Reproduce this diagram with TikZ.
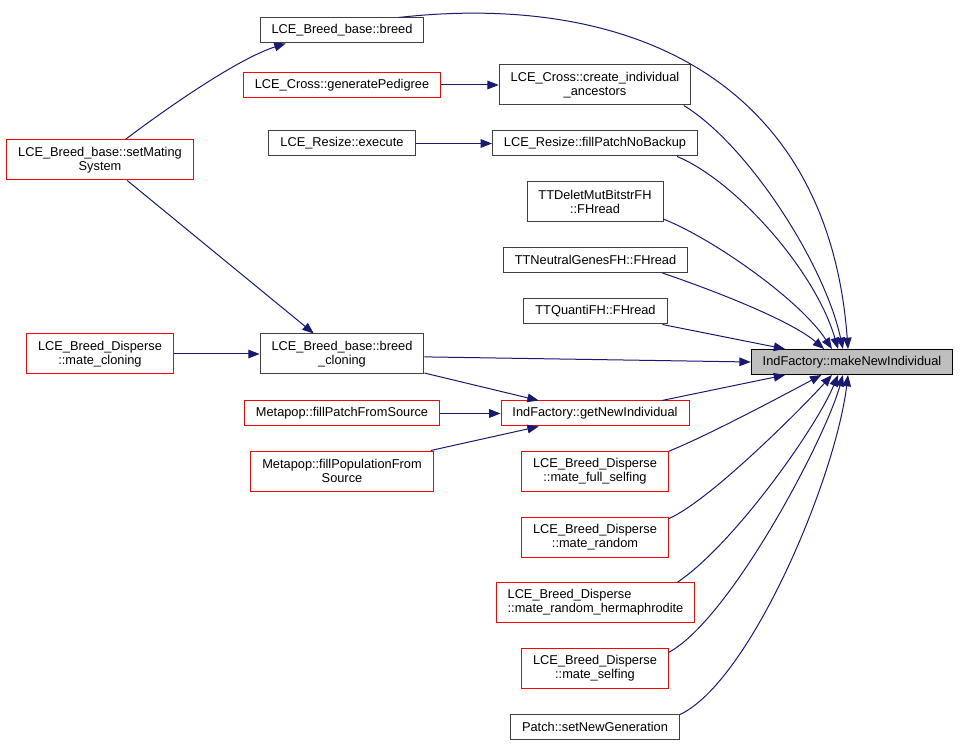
\documentclass[tikz,border=0pt]{standalone}
\usepackage{fontspec}
\setmainfont{Liberation Sans}
\usetikzlibrary{arrows.meta}
\definecolor{edgeblue}{HTML}{191970}
\definecolor{boxgray}{HTML}{404040}
\definecolor{curfill}{HTML}{BFBFBF}

\begin{document}
\begin{tikzpicture}[
			x=0.75pt, y=0.75pt,
			font=\fontsize{9.6}{10.5}\selectfont,
			fn/.style = {draw=boxgray, fill=white, line width=0.75pt, inner xsep=8.6pt, inner ysep=0pt, minimum height=18.75pt},
			fnr/.style = {fn, draw=red},
			cur/.style = {fn, draw=black, fill=curfill},
			two/.style = {minimum height=30pt, align=center},
			call/.style = {draw=edgeblue, line width=0.75pt, -{Triangle[length=8.5pt, width=6.5pt]}}
		]
		\useasboundingbox (0,0) rectangle (961,-745);
		\node[fn] (breed) at (342,-30.5) {LCE\_Breed\_base::breed};
		\node[fnr] (gped) at (342,-85) {LCE\_Cross::generatePedigree};
		\node[fn] (exec) at (342,-143.5) {LCE\_Resize::execute};
		\node[fnr, two] (sms) at (100,-160) {LCE\_Breed\_base::setMating\\System};
		\node[fn, two] (create) at (595,-85) {LCE\_Cross::create\_individual\\\_ancestors};
		\node[fn] (fpnb) at (595,-143.5) {LCE\_Resize::fillPatchNoBackup};
		\node[fn, two] (ttdel) at (595,-202) {TTDeletMutBitstrFH\\::FHread};
		\node[fn] (ttneu) at (595.5,-260) {TTNeutralGenesFH::FHread};
		\node[fn] (ttq) at (595.5,-311.5) {TTQuantiFH::FHread};
		\node[cur] (mni) at (852,-362) {IndFactory::makeNewIndividual};
		\node[fnr, two] (mclon) at (100,-354) {LCE\_Breed\_Disperse\\::mate\_cloning};
		\node[fn, two] (bclon) at (342,-354) {LCE\_Breed\_base::breed\\\_cloning};
		\node[fnr] (fpfs) at (342,-413.5) {Metapop::fillPatchFromSource};
		\node[fnr] (gni) at (595,-413.5) {IndFactory::getNewIndividual};
		\node[fnr, two] (fpop) at (342,-471) {Metapop::fillPopulationFrom\\Source};
		\node[fnr, two] (mfs) at (595,-471) {LCE\_Breed\_Disperse\\::mate\_full\_selfing};
		\node[fnr, two] (mra) at (595,-537) {LCE\_Breed\_Disperse\\::mate\_random};
		\node[fnr, two, align=left] (mrh) at (595.5,-602.5) {LCE\_Breed\_Disperse\\::mate\_random\_hermaphrodite};
		\node[fnr, two] (msf) at (595,-668) {LCE\_Breed\_Disperse\\::mate\_selfing};
		\node[fn] (png) at (595,-726.5) {Patch::setNewGeneration};
		% Draw the calls into makeNewIndividual.
		\draw[call] (breed.13) .. controls +(232,26) and +(-20,269) .. (mni.107);
		\draw[call] (create.-13) .. controls +(65,-40) and +(-18,84) .. (mni.125);
		\draw[call] (fpnb.-9) .. controls +(58,-24) and +(-23,79) .. (mni.137);
		\draw[call] (ttdel.-14) .. controls +(50,-20) and +(-32,49) .. (mni.147);
		\draw[call] (ttneu.-11) .. controls +(50,-17) and +(-34,29) .. (mni.155);
		\draw[call] (ttq.-11) -- (mni.169);
		\draw[call] (bclon.-2) -- (mni.180);
		\draw[call] (gni.11) -- (mni.191);
		\draw[call] (mfs.15) .. controls +(42,17) and +(-32,-17) .. (mni.203);
		\draw[call] (mra.14) .. controls +(41,18) and +(-32,-35) .. (mni.213);
		\draw[call] (mrh.14) .. controls +(55,37) and +(-23,-55) .. (mni.223);
		\draw[call] (msf.12) .. controls +(61,33) and +(-18,-65) .. (mni.235);
		\draw[call] (png.8) .. controls +(70,33) and +(-13,-105) .. (mni.253);
		% Draw the other calls.
		\draw[call] (sms.39) .. controls +(45,34) and +(-47,-15) .. (breed.193);
		\draw[call] (sms.-37) -- (bclon.144);
		\draw[call] (gped) -- (create);
		\draw[call] (exec) -- (fpnb);
		\draw[call] (mclon) -- (bclon);
		\draw[call] (bclon.-13) -- (gni.167);
		\draw[call] (fpfs) -- (gni);
		\draw[call] (fpop.13) -- (gni.193);
	\end{tikzpicture}
\end{document}
